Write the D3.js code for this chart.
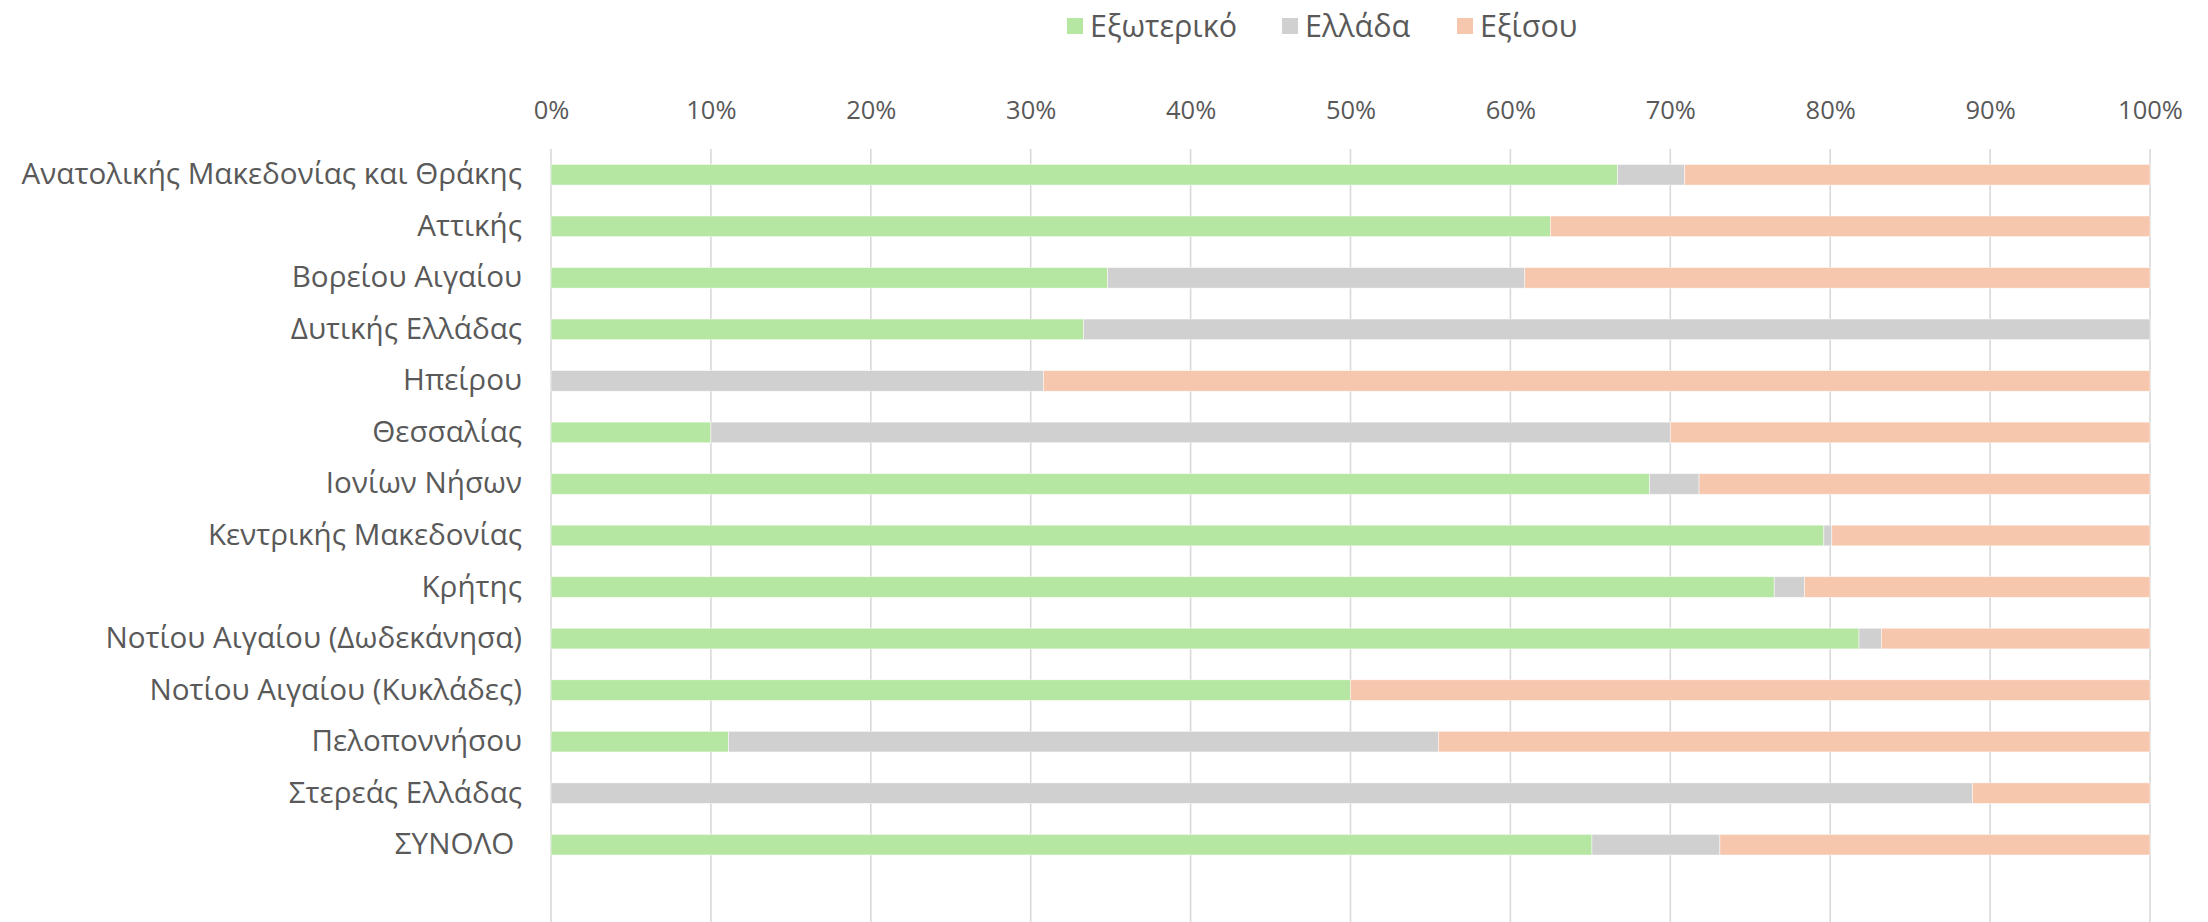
<!DOCTYPE html>
<html>
<head>
<meta charset="utf-8">
<script src="https://cdn.jsdelivr.net/npm/d3@7"></script>
<style>
  html, body { margin: 0; padding: 0; background: #ffffff; }
  svg { display: block; }
  text { font-family: "Open Sans", "Noto Sans", sans-serif; fill: #595959; }
</style>
</head>
<body>
<svg id="chart" width="2208" height="922"></svg>
<script>
// ---- data ----
const categories = [
  "Ανατολικής Μακεδονίας και Θράκης",
  "Αττικής",
  "Βορείου Αιγαίου",
  "Δυτικής Ελλάδας",
  "Ηπείρου",
  "Θεσσαλίας",
  "Ιονίων Νήσων",
  "Κεντρικής Μακεδονίας",
  "Κρήτης",
  "Νοτίου Αιγαίου (Δωδεκάνησα)",
  "Νοτίου Αιγαίου (Κυκλάδες)",
  "Πελοποννήσου",
  "Στερεάς Ελλάδας",
  "ΣΥΝΟΛΟ "
];
const seriesNames = ["Εξωτερικό", "Ελλάδα", "Εξίσου"];
const exoteriko = [66.7, 62.5, 34.8, 33.3, 0.0, 10.0, 68.7, 79.6, 76.5, 81.8, 50.0, 11.1, 0.0, 65.1];
const ellada    = [ 4.2,  0.0, 26.1, 66.7, 30.8, 60.0, 3.1,  0.5,  1.9,  1.4,  0.0, 44.4, 88.9,  8.0];
const exisou    = [29.1, 37.5, 39.1,  0.0, 69.2, 30.0, 28.2, 19.9, 21.6, 16.8, 50.0, 44.5, 11.1, 26.9];
const tickValues = [0, 10, 20, 30, 40, 50, 60, 70, 80, 90, 100];
const colors = ["#b5e6a2", "#d0d0d0", "#f6c6ad"];

// ---- build ----
const svg = d3.select("#chart");
const plotTop = 149, plotBottom = 922;
const step = (plotBottom - plotTop) / 15;

const x = d3.scaleLinear().domain([0, 100]).range([551, 2150]);
const y = d3.scaleBand().domain(categories)
  .range([plotTop, plotTop + categories.length * step])
  .paddingInner(0.6).paddingOuter(0.3);

const table = categories.map((c, i) => ({
  cat: c, "Εξωτερικό": exoteriko[i], "Ελλάδα": ellada[i], "Εξίσου": exisou[i]
}));
const stacked = d3.stack().keys(seriesNames)(table);

// gridlines
svg.append("g").selectAll("line").data(tickValues).join("line")
  .attr("x1", d => x(d)).attr("x2", d => x(d))
  .attr("y1", plotTop).attr("y2", plotBottom)
  .attr("stroke", "#d9d9d9").attr("stroke-width", 1.6);

// bars
svg.append("g").selectAll("g").data(stacked).join("g")
  .attr("fill", (d, i) => colors[i])
  .selectAll("rect").data(d => d.filter(s => s[1] - s[0] > 0)).join("rect")
  .attr("x", d => x(d[0]))
  .attr("width", d => x(d[1]) - x(d[0]))
  .attr("y", d => y(d.data.cat))
  .attr("height", y.bandwidth())
  .attr("stroke", "#ffffff").attr("stroke-opacity", 0.6).attr("stroke-width", 0.8);

// top axis
const xAxis = d3.axisTop(x).tickValues(tickValues).tickFormat(d => d + "%").tickSize(0).tickPadding(8);
const gx = svg.append("g").attr("transform", "translate(0,127)").call(xAxis);
gx.select(".domain").remove();
gx.selectAll("text").attr("font-size", 25.5).attr("font-family", null).style("fill", "#595959");

// category axis
const yAxis = d3.axisLeft(y).tickSize(0).tickPadding(29);
const gy = svg.append("g").attr("transform", "translate(551,0)").call(yAxis);
gy.select(".domain").remove();
gy.selectAll("text").attr("font-size", 29.6).attr("font-family", null)
  .style("white-space", "pre").style("fill", "#595959");

// legend
const legendX = [1067, 1282, 1457];
const legend = svg.append("g").selectAll("g").data(seriesNames).join("g")
  .attr("transform", (d, i) => `translate(${legendX[i]},0)`);
legend.append("rect").attr("x", 0).attr("y", 18).attr("width", 16).attr("height", 16)
  .attr("fill", (d, i) => colors[i]);
legend.append("text").attr("x", 23).attr("y", 26).attr("dy", "0.35em")
  .attr("font-size", 30.5).text(d => d);
</script>
</body>
</html>
